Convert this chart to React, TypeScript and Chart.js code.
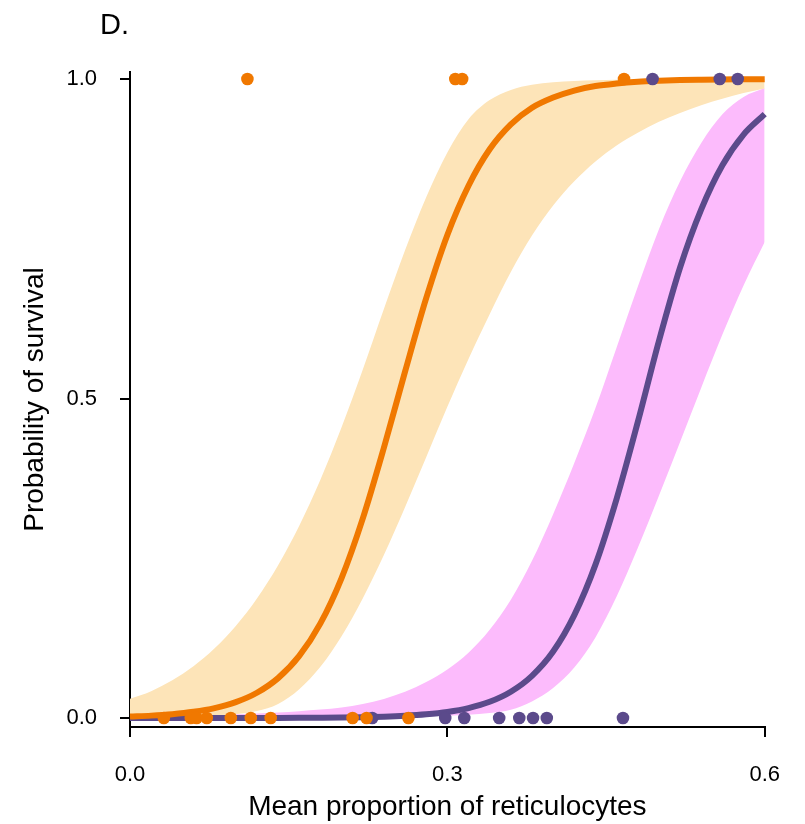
import React, { useEffect, useRef } from "react";
import { Chart, registerables } from "chart.js";

Chart.register(...registerables);

// ---------- data ----------
const xGrid = [
  0, 0.02, 0.04, 0.06, 0.08, 0.1, 0.12, 0.14, 0.16, 0.18, 0.2, 0.22, 0.24, 0.26, 0.28, 0.3,
  0.32, 0.34, 0.36, 0.38, 0.4, 0.42, 0.44, 0.46, 0.48, 0.5, 0.52, 0.54, 0.56, 0.58, 0.6,
];

const orangeFit = [
  0.0023, 0.0037, 0.006, 0.0097, 0.0155, 0.0248, 0.0395, 0.0624, 0.0971, 0.148, 0.219, 0.312,
  0.423, 0.542, 0.657, 0.756, 0.833, 0.89, 0.929, 0.955, 0.971, 0.982, 0.989, 0.993, 0.9957,
  0.9973, 0.9984, 0.999, 0.9994, 0.9996, 0.9998,
];
const orangeUpper = [
  0.03, 0.042, 0.059, 0.081, 0.109, 0.144, 0.187, 0.239, 0.301, 0.373, 0.455, 0.545, 0.64,
  0.732, 0.815, 0.885, 0.937, 0.967, 0.983, 0.991, 0.995, 0.997, 0.998, 0.9988, 0.9993, 0.9996,
  0.9998, 0.9999, 1, 1, 1,
];
const orangeLower = [
  0.0008, 0.0012, 0.0018, 0.0027, 0.004, 0.006, 0.011, 0.022, 0.045, 0.08, 0.128, 0.187, 0.255,
  0.33, 0.408, 0.487, 0.562, 0.632, 0.698, 0.755, 0.802, 0.84, 0.871, 0.896, 0.916, 0.933,
  0.947, 0.959, 0.969, 0.978, 0.985,
];

const purpleFit = [
  0.000005, 0.000009, 0.000015, 0.000025, 0.00004, 0.00006, 0.0001, 0.00017, 0.0003, 0.0005,
  0.0008, 0.0013, 0.0021, 0.0035, 0.0058, 0.0095, 0.0155, 0.0253, 0.0411, 0.066, 0.104, 0.161,
  0.24, 0.343, 0.463, 0.59, 0.705, 0.796, 0.865, 0.913, 0.945,
];
const pinkUpper = [
  0.002, 0.0025, 0.003, 0.0037, 0.0046, 0.0058, 0.007, 0.0086, 0.0107, 0.0131, 0.0163, 0.0219,
  0.0299, 0.0411, 0.0563, 0.0759, 0.102, 0.138, 0.185, 0.246, 0.319, 0.399, 0.485, 0.58, 0.675,
  0.765, 0.84, 0.9, 0.945, 0.972, 0.986,
];
const pinkLower = [
  0.0001, 0.0001, 0.0001, 0.0002, 0.0002, 0.0003, 0.0003, 0.0004, 0.0005, 0.0006, 0.0008,
  0.001, 0.0013, 0.0017, 0.0024, 0.0034, 0.005, 0.0078, 0.013, 0.026, 0.047, 0.079, 0.126,
  0.19, 0.266, 0.348, 0.432, 0.517, 0.6, 0.677, 0.745,
];

// observed outcomes (1 = survived, 0 = died)
const orangeObsX = [
  0.111, 0.3075, 0.314, 0.467, 0.032, 0.0575, 0.063, 0.0726, 0.0953, 0.1142, 0.133, 0.2104,
  0.2236, 0.2632,
];
const orangeObsY = [1, 1, 1, 1, 0, 0, 0, 0, 0, 0, 0, 0, 0, 0];
const purpleObsX = [0.494, 0.5575, 0.5745, 0.229, 0.298, 0.316, 0.349, 0.368, 0.381, 0.394, 0.466];
const purpleObsY = [1, 1, 1, 0, 0, 0, 0, 0, 0, 0, 0];

const xTickValues = [0, 0.3, 0.6];
const yTickValues = [0, 0.5, 1];

const panelLabel = "D.";
const xTitle = "Mean proportion of reticulocytes";
const yTitle = "Probability of survival";

// ---------- styles ----------
const ORANGE = "#F07800";
const PURPLE = "#5B4A8B";
const ORANGE_BAND = "#FDE4B8";
const PINK_BAND = "#FCBBFC";
const FONT = "'Liberation Sans', Arial, Helvetica, sans-serif";

const W = 805;
const H = 824;

const pts = (xs: number[], ys: number[]) => xs.map((x, i) => ({ x, y: ys[i] }));

const panelLabelPlugin = {
  id: "panelLabel",
  afterDraw(chart: any) {
    const c = chart.ctx;
    c.save();
    c.fillStyle = "#000";
    c.font = `29px ${FONT}`;
    c.textAlign = "left";
    c.textBaseline = "alphabetic";
    c.fillText(panelLabel, 100, 34);
    c.restore();
  },
};

export default function App() {
  const ref = useRef<HTMLCanvasElement>(null);

  useEffect(() => {
    if (!ref.current) return;
    const curve = (ys: number[], color: string, order: number) => ({
      data: pts(xGrid, ys),
      borderColor: color,
      borderWidth: 6,
      pointRadius: 0,
      fill: false,
      cubicInterpolationMode: "monotone" as const,
      order,
    });
    const bandEdge = (ys: number[], fillColor: string | false, order: number) => ({
      data: pts(xGrid, ys),
      borderWidth: 0,
      borderColor: "rgba(0,0,0,0)",
      backgroundColor: fillColor || "rgba(0,0,0,0)",
      pointRadius: 0,
      fill: fillColor ? "+1" : false,
      cubicInterpolationMode: "monotone" as const,
      order,
    });
    const dots = (xs: number[], ys: number[], color: string, order: number) => ({
      data: pts(xs, ys),
      showLine: false,
      pointRadius: 6.3,
      pointBorderWidth: 0,
      pointBackgroundColor: color,
      pointBorderColor: color,
      order,
    });

    const chart = new Chart(ref.current, {
      type: "line",
      data: {
        datasets: [
          bandEdge(pinkUpper, PINK_BAND, 7),
          bandEdge(pinkLower, false, 8),
          bandEdge(orangeUpper, ORANGE_BAND, 5),
          bandEdge(orangeLower, false, 6),
          curve(purpleFit, PURPLE, 4),
          curve(orangeFit, ORANGE, 3),
          dots(purpleObsX, purpleObsY, PURPLE, 1),
          dots(orangeObsX, orangeObsY, ORANGE, 0),
        ] as any,
      },
      options: {
        animation: false,
        responsive: false,
        clip: false as any,
        layout: { padding: { top: 72, right: 39, left: 0, bottom: 0 } },
        plugins: {
          legend: { display: false },
          tooltip: { enabled: false },
          title: { display: false },
        },
        scales: {
          x: {
            type: "linear",
            min: 0,
            max: 0.6,
            afterBuildTicks: (s: any) => {
              s.ticks = xTickValues.map((v) => ({ value: v }));
            },
            afterFit: (s: any) => {
              s.height = 97;
            },
            ticks: {
              callback: (v: any) => Number(v).toFixed(1),
              color: "#000",
              font: { family: FONT, size: 22 },
              padding: 25,
              maxRotation: 0,
              autoSkip: false,
            },
            grid: {
              drawOnChartArea: false,
              drawTicks: true,
              tickLength: 10,
              color: "#000",
              lineWidth: 2,
            },
            border: { display: true, color: "#000", width: 2 },
            title: {
              display: true,
              text: xTitle,
              color: "#000",
              font: { family: FONT, size: 28 },
              padding: { top: 2, bottom: 0 },
            },
          },
          y: {
            type: "linear",
            min: -0.0141,
            max: 1.011,
            afterBuildTicks: (s: any) => {
              s.ticks = yTickValues.map((v) => ({ value: v }));
            },
            afterFit: (s: any) => {
              s.width = 130;
            },
            ticks: {
              callback: (v: any) => Number(v).toFixed(1),
              color: "#000",
              font: { family: FONT, size: 22 },
              padding: 23,
              autoSkip: false,
            },
            grid: {
              drawOnChartArea: false,
              drawTicks: true,
              tickLength: 10,
              color: "#000",
              lineWidth: 2,
            },
            border: { display: true, color: "#000", width: 2 },
            title: {
              display: true,
              text: yTitle,
              color: "#000",
              font: { family: FONT, size: 28 },
              padding: { top: 18, bottom: 0 },
            },
          },
        },
      },
      plugins: [panelLabelPlugin],
    });
    return () => chart.destroy();
  }, []);

  return (
    <div
      style={{
        position: "fixed",
        left: 0,
        top: 0,
        width: W,
        height: H,
        background: "#fff",
      }}
    >
      <canvas ref={ref} width={W} height={H} style={{ display: "block" }} />
    </div>
  );
}
